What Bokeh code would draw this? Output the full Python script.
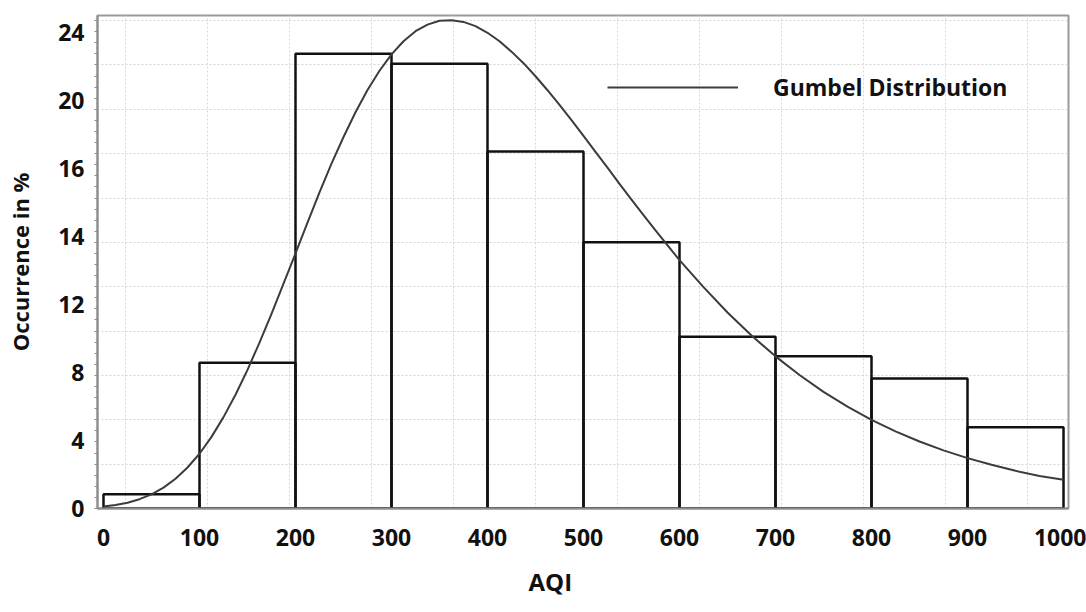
from bokeh.plotting import figure
from bokeh.models import FixedTicker, Range1d, Legend, LegendItem, ColumnDataSource, Title
from bokeh.embed import file_html
from bokeh.resources import INLINE

# ---- data ----
aqi_left = [0, 100, 200, 300, 400, 500, 600, 700, 800, 900]
aqi_right = [100, 200, 300, 400, 500, 600, 700, 800, 900, 1000]
occurrence = [0.64, 6.57, 20.5, 20.05, 16.1, 12.0, 7.74, 6.87, 5.86, 3.66]

gumbel_x = [0, 12.5, 25, 37.5, 50, 62.5, 75, 87.5, 100, 112.5, 125, 137.5, 150,
            162.5, 175, 187.5, 200, 212.5, 225, 237.5, 250, 262.5, 275, 287.5,
            300, 312.5, 325, 337.5, 350, 362.5, 375, 387.5, 400, 412.5, 425,
            437.5, 450, 462.5, 475, 487.5, 500, 512.5, 525, 537.5, 550, 562.5,
            575, 600, 625, 650, 675, 700, 725, 750, 775, 800, 825, 850, 875,
            900, 925, 950, 975, 1000]
gumbel_y = [0.09, 0.16, 0.26, 0.42, 0.64, 0.94, 1.34, 1.85, 2.47, 3.23, 4.12,
            5.13, 6.25, 7.48, 8.78, 10.14, 11.5, 12.89, 14.25, 15.55, 16.75,
            17.87, 18.87, 19.74, 20.48, 21.07, 21.52, 21.82, 21.99, 22.02,
            21.94, 21.75, 21.45, 21.07, 20.6, 20.08, 19.49, 18.86, 18.2, 17.51,
            16.8, 16.08, 15.37, 14.64, 13.93, 13.23, 12.54, 11.2, 9.98, 8.84,
            7.8, 6.86, 6.02, 5.26, 4.59, 4.0, 3.48, 3.02, 2.62, 2.27, 1.97,
            1.7, 1.47, 1.3]

x_ticks = [0, 100, 200, 300, 400, 500, 600, 700, 800, 900, 1000]
y_tick_labels = ["0", "4", "8", "12", "14", "16", "20", "24"]

# ---- layout helpers ----
label_step = 3.063
y_tick_pos = [k * label_step for k in range(len(y_tick_labels))]

FONT = "Open Sans"
INK = "#111111"

p = figure(width=1086, height=612, output_backend="svg", toolbar_location=None,
           x_range=Range1d(-6.25, 1005.2), y_range=Range1d(0, 22.23),
           min_border_left=97, min_border_right=18, min_border_top=15,
           min_border_bottom=104)
p.background_fill_color = "white"
p.border_fill_color = "white"
p.outline_line_color = "#9a9a9a"
p.outline_line_width = 2

# grids
p.xgrid.ticker = FixedTicker(ticks=[23 + 85.4 * k for k in range(12)])
p.ygrid.ticker = FixedTicker(ticks=[2 * k for k in range(12)])
for g in (p.xgrid, p.ygrid):
    g.grid_line_color = "#d6d6d6"
    g.grid_line_dash = "2 2"
    g.grid_line_width = 1

# bars
src = ColumnDataSource(dict(left=aqi_left, right=aqi_right, top=occurrence,
                            bottom=[0] * len(occurrence)))
p.quad(left="left", right="right", top="top", bottom="bottom", source=src,
       fill_alpha=0, line_color=INK, line_width=2.5)

# gumbel curve
r = p.line(gumbel_x, gumbel_y, line_color="#3c3c3c", line_width=2, line_join="round")

# axes
p.xaxis.ticker = FixedTicker(ticks=x_ticks)
p.yaxis.ticker = FixedTicker(ticks=y_tick_pos, minor_ticks=[0.5 * k for k in range(45)])
p.yaxis.major_label_overrides = {pos: lab for pos, lab in zip(y_tick_pos, y_tick_labels)}

for ax in (p.xaxis[0], p.yaxis[0]):
    ax.axis_line_color = "#8c8c8c"
    ax.axis_line_width = 2
    ax.major_tick_out = 0
    ax.major_tick_in = 0
    ax.major_label_text_font = FONT
    ax.major_label_text_font_style = "bold"
    ax.major_label_text_font_size = "23px"
    ax.major_label_text_color = INK

p.xaxis.minor_tick_line_color = None
p.yaxis.minor_tick_line_color = "#8c8c8c"
p.yaxis.minor_tick_out = 3
p.yaxis.minor_tick_in = 0

p.xaxis.major_label_standoff = 20
p.yaxis.major_label_standoff = 10

p.yaxis.axis_label = "Occurrence in %"
p.yaxis.axis_label_text_font = FONT
p.yaxis.axis_label_text_font_style = "bold"
p.yaxis.axis_label_text_font_size = "22px"
p.yaxis.axis_label_text_color = INK
p.yaxis.axis_label_standoff = 20

# x axis title, slightly left of centre as in the reference
p.add_layout(Title(text="AQI", align="left", offset=431, standoff=29,
                   text_font=FONT, text_font_style="bold", text_font_size="24px",
                   text_color=INK), "below")

legend = Legend(items=[LegendItem(label="Gumbel Distribution", renderers=[r])],
                location=(510, 405), padding=0, margin=0,
                border_line_alpha=0, background_fill_alpha=0,
                glyph_width=131, glyph_height=24, label_height=24,
                label_standoff=35,
                label_text_font=FONT, label_text_font_style="bold",
                label_text_font_size="23px", label_text_color=INK)
p.add_layout(legend, "center")

open("out.html", "w").write(file_html(p, INLINE))
